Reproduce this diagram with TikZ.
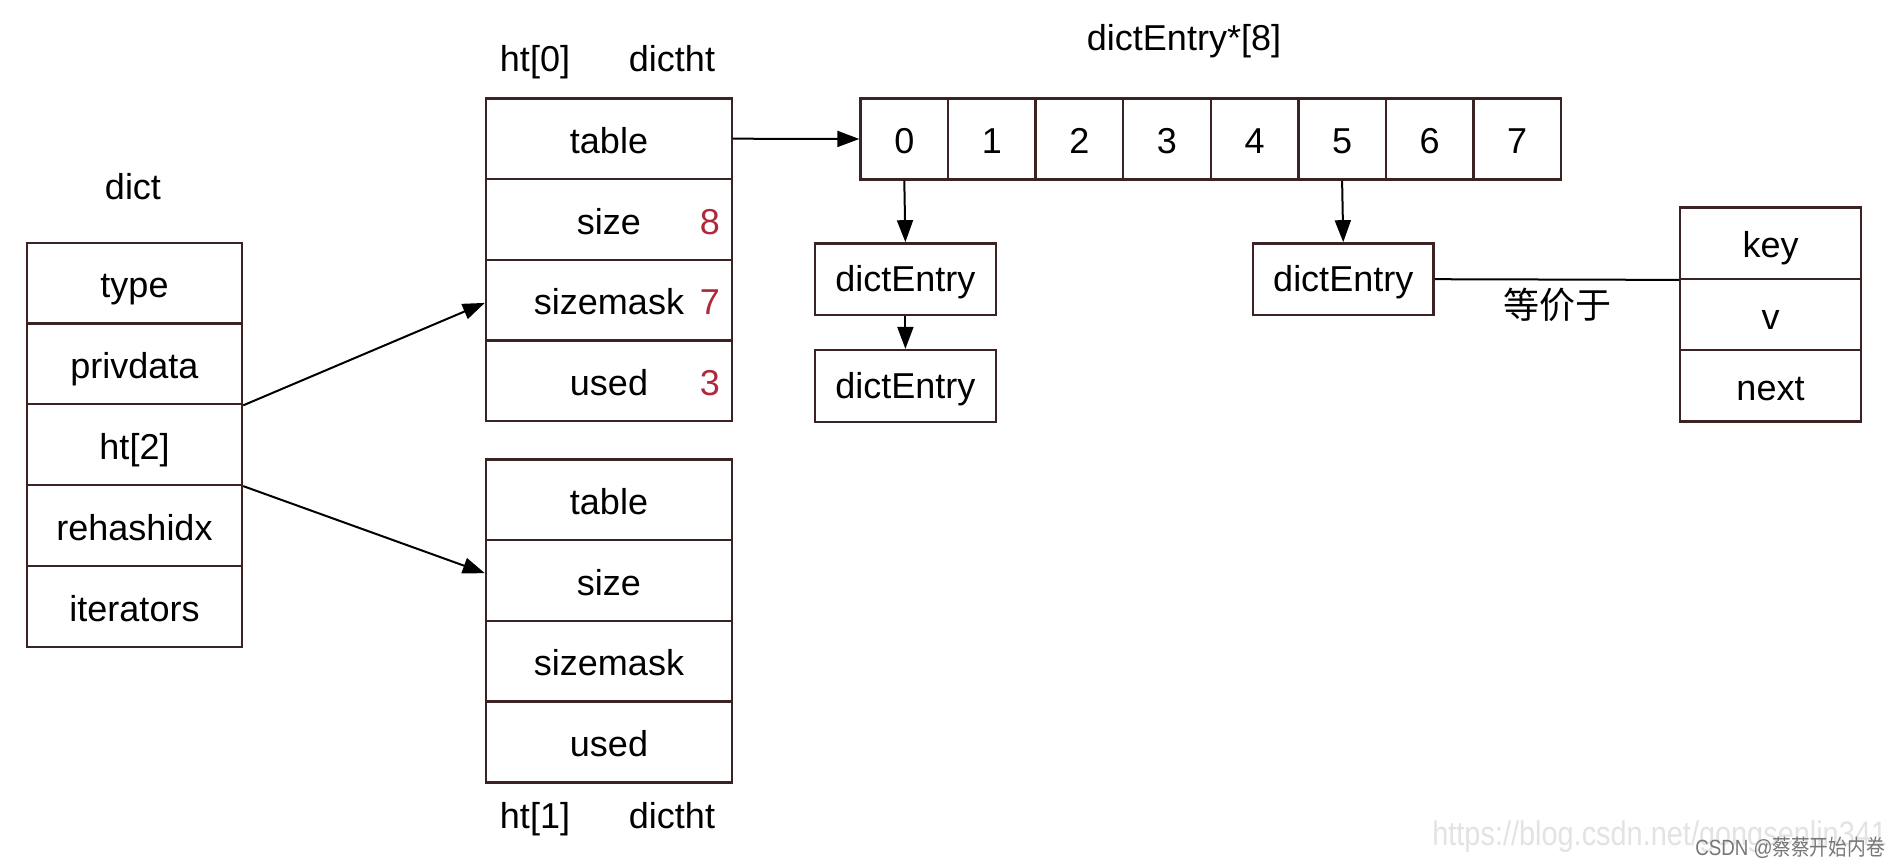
\documentclass[tikz,border=0pt]{standalone}
\usepackage{fontspec}
\setmainfont{Liberation Sans}
\newfontfamily\cjk{Noto Sans CJK SC}
\usetikzlibrary{arrows.meta}
\definecolor{bc}{HTML}{3C2323}
\definecolor{rd}{HTML}{B0283C}
\definecolor{wm}{HTML}{E3E3E3}
\definecolor{wm2}{HTML}{777777}
\begin{document}
\begin{tikzpicture}[x=0.5pt,y=-0.5pt,
 every node/.style={font=\fontsize{18}{21}\selectfont, inner sep=0pt},
 cell/.style={draw=bc, line width=1.2pt, text height=18pt, text depth=3.4pt},
 drow/.style={cell, minimum width=107.5pt, minimum height=40.4pt},
 hrow/.style={cell, minimum width=123pt, minimum height=40.35pt},
 acell/.style={cell, minimum width=43.78pt, minimum height=40.5pt},
 ebox/.style={cell, minimum width=90.3pt, minimum height=35.85pt, text height=16.5pt, text depth=4pt},
 krow/.style={cell, minimum width=90.5pt, minimum height=35.7pt},
 num/.style={text=rd, text height=18pt, text depth=3.4pt},
 lbl/.style={anchor=base},
 arr/.style={-{Triangle[length=11pt,width=8pt]}, line width=1pt, black},
 link/.style={line width=1pt, black},
]
\useasboundingbox[fill=white] (0,0) rectangle (1902,862);

% dict
\node[lbl] (ldict) at (133,199.3) {dict};
\node[drow] (d1) at (134.5,283.25) {type};
\node[drow] (d2) at (134.5,363.75) {privdata};
\node[drow] (d3) at (134.5,444.5) {ht[2]};
\node[drow] (d4) at (134.5,525.5) {rehashidx};
\node[drow] (d5) at (134.5,606.5) {iterators};

% ht[0]
\node[lbl] (lh0) at (535,71.7) {ht[0]};
\node[lbl] (lh0t) at (672,71.7) {dictht};
\node[hrow] (h0t) at (609,138.7) {table};
\node[hrow] (h0s) at (609,219.4) {size};
\node[hrow] (h0m) at (609,300.1) {sizemask};
\node[hrow] (h0u) at (609,380.8) {used};
\node[num] (n8) at (710,219.4) {8};
\node[num] (n7) at (710,300.1) {7};
\node[num] (n3) at (710,380.8) {3};

% ht[1]
\node[hrow] (h1t) at (609,499.85) {table};
\node[hrow] (h1s) at (609,580.55) {size};
\node[hrow] (h1m) at (609,661.25) {sizemask};
\node[hrow] (h1u) at (609,741.95) {used};
\node[lbl] (lh1) at (535,828) {ht[1]};
\node[lbl] (lh1t) at (672,828) {dictht};

% array
\node[lbl] (larr) at (1184,50) {dictEntry*[8]};
\foreach \i in {0,...,7}
  \node[acell] (a\i) at ({904.3+87.56*\i},139) {\i};

% entries
\node[ebox] (e1) at (905.4,279.2) {dictEntry};
\node[ebox] (e2) at (905.4,385.9) {dictEntry};
\node[ebox] (e3) at (1343.25,279.2) {dictEntry};

% key/v/next
\node[krow] (k1) at (1770.5,243) {key};
\node[krow] (k2) at (1770.5,314.4) {v};
\node[krow] (k3) at (1770.5,385.8) {next};
\node (leq) at (1557,305) {\cjk 等价于};

% connectors
\draw[arr] (d2.south east) -- ([yshift=-1.4pt]h0m.west);
\draw[arr] (d3.south east) -- ([yshift=3.7pt]h1s.west);
\draw[arr] (h0t.east) -- (a0.west);
\draw[arr] (a0.south) -- (e1.north);
\draw[arr] (e1.south) -- (e2.north);
\draw[arr] (a5.south) -- (e3.north);
\draw[link] (e3.east) -- (k1.south west);

% watermark
\node[anchor=base west, text=wm, font=\fontsize{17}{20}\selectfont, transform shape, xscale=0.85] (wurl) at (1432,845) {https://blog.csdn.net/gongsenlin341};
\node[anchor=base west, text=wm2, font=\fontsize{11}{13}\selectfont, transform shape, xscale=0.85] (wcsdn) at (1695,855) {CSDN @{\cjk 蔡蔡开始内卷}};
\end{tikzpicture}
\end{document}
